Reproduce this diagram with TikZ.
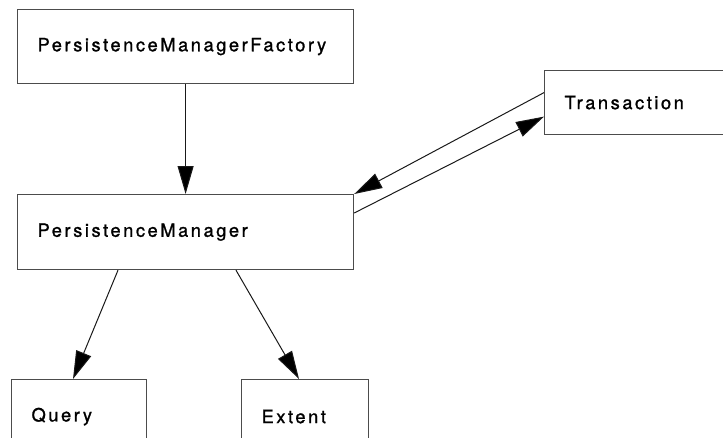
\documentclass[tikz,border=0pt]{standalone}
\usepackage{fontspec}
\setmainfont{TeX Gyre Heros}[LetterSpace=14, FakeBold=1.2]
\usetikzlibrary{arrows.meta,calc}
\begin{document}
\begin{tikzpicture}[x=0.75pt,y=-0.75pt,
  box/.style={draw=black!70, line width=0.9pt, anchor=north west,
    inner xsep=15pt, inner ysep=0pt, align=left,
    font=\fontsize{13.7pt}{16pt}\selectfont},
  link/.style={draw=black!90, line width=0.75pt,
    -{Triangle[length=21pt,width=12pt,fill=black]}}]
  \useasboundingbox (0,0) rectangle (723,437);
  \clip (0,0) rectangle (723,437);
  % classes
  \node[box, minimum width=336pt*0.75, minimum height=74pt*0.75,
        text width=296pt*0.75] (pmf) at (17,9) {PersistenceManagerFactory};
  \node[box, minimum width=336pt*0.75, minimum height=75pt*0.75,
        text width=296pt*0.75] (pm) at (17,194) {PersistenceManager};
  \node[box, minimum width=180pt*0.75, minimum height=64pt*0.75,
        text width=140pt*0.75] (tx) at (544,70) {Transaction};
  \node[box, minimum width=135pt*0.75, minimum height=74pt*0.75,
        text width=95pt*0.75] (query) at (11,379) {Query};
  \node[box, minimum width=127pt*0.75, minimum height=74pt*0.75,
        text width=87pt*0.75] (extent) at (241,379) {Extent};
  % associations
  \draw[link] (pmf.south) -- (pm.north);
  \draw[link] ([yshift=7.5pt]tx.west) -- (pm.north east);
  \draw[link] ([yshift=-14.25pt]pm.north east) -- ([yshift=-10.5pt]tx.west);
  \draw[link] ([xshift=75.75pt]pm.south west) -- ([xshift=46.5pt]query.north west);
  \draw[link] ([xshift=164.25pt]pm.south west) -- ([xshift=43.5pt]extent.north west);
\end{tikzpicture}
\end{document}
